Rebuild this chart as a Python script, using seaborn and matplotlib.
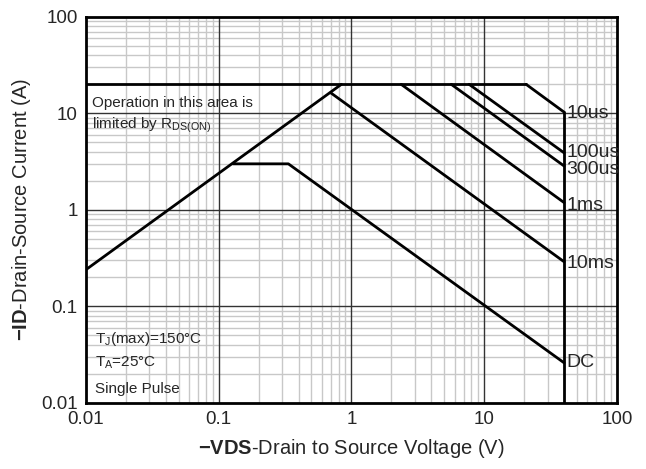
import numpy as np
import pandas as pd
import matplotlib
matplotlib.use("Agg")
import matplotlib.pyplot as plt
import seaborn as sns
from matplotlib.ticker import LogLocator, FixedLocator, FixedFormatter

# Safe operating area curves (V, A)
rds_v = [0.01, 0.84]
rds_i = [0.24, 20.0]
limit_v = [0.01, 20.7]
limit_i = [20.0, 20.0]
us10_v = [20.7, 40.0]
us10_i = [20.0, 10.3]
vmax_v = [40.0, 40.0]
vmax_i = [10.3, 0.01]
us100_v = [7.7, 40.0]
us100_i = [20.0, 3.9]
us300_v = [5.65, 40.0]
us300_i = [20.0, 2.85]
ms1_v = [2.37, 40.0]
ms1_i = [20.0, 1.19]
ms10_v = [0.7, 40.0]
ms10_i = [16.3, 0.29]
dc_v = [0.128, 0.335, 40.0]
dc_i = [3.0, 3.0, 0.026]

curve_names = ["10us", "100us", "300us", "1ms", "10ms", "DC"]
label_ypos = [10.0, 3.95, 2.6, 1.1, 0.28, 0.026]
tick_vals = [0.01, 0.1, 1, 10, 100]
tick_text = ["0.01", "0.1", "1", "10", "100"]

sns.set_style("white")
plt.rcParams['font.family'] = ['Liberation Sans', 'DejaVu Sans']
plt.rcParams['mathtext.fontset'] = 'custom'
plt.rcParams['mathtext.rm'] = 'Liberation Sans'
plt.rcParams['mathtext.it'] = 'Liberation Sans'
plt.rcParams['mathtext.bf'] = 'Liberation Sans:bold'

fig = plt.figure(figsize=(6.46, 4.69), dpi=100)
ax = fig.add_axes([0.133, 0.141, 0.822, 0.823])
ax.set_xscale("log")
ax.set_yscale("log")
ax.set_xlim(0.01, 100)
ax.set_ylim(0.01, 100)

ax.xaxis.set_major_locator(FixedLocator(tick_vals))
ax.xaxis.set_major_formatter(FixedFormatter(tick_text))
ax.yaxis.set_major_locator(FixedLocator(tick_vals))
ax.yaxis.set_major_formatter(FixedFormatter(tick_text))
ax.xaxis.set_minor_locator(LogLocator(base=10, subs=np.arange(2, 10), numticks=20))
ax.yaxis.set_minor_locator(LogLocator(base=10, subs=np.arange(2, 10), numticks=20))
ax.grid(which="minor", color="#c8c8c8", linewidth=1.0)
ax.grid(which="major", visible=False)
ax.tick_params(which="both", length=0, labelsize=13.5, pad=6)
ax.set_axisbelow(True)

# major grid drawn above the light minor grid
for t in tick_vals[1:-1]:
    ax.axvline(t, color="#333333", linewidth=1.0, zorder=1)
    ax.axhline(t, color="#333333", linewidth=1.0, zorder=1)

segments = [
    (rds_v, rds_i), (limit_v, limit_i), (us10_v, us10_i), (vmax_v, vmax_i),
    (us100_v, us100_i), (us300_v, us300_i), (ms1_v, ms1_i), (ms10_v, ms10_i),
    (dc_v, dc_i),
]
for xs, ys in segments:
    df = pd.DataFrame({"V": xs, "I": ys})
    sns.lineplot(data=df, x="V", y="I", ax=ax, color="black", linewidth=2.0,
                 sort=False, estimator=None)

for name, yv in zip(curve_names, label_ypos):
    ax.text(41.5, yv, name, fontsize=14, va="center", ha="left")

ax.text(0.0111, 12.8, "Operation in this area is", fontsize=11, va="center")
ax.text(0.0111, 7.6, r"limited by R$_{\mathrm{DS(ON)}}$", fontsize=11, va="center")
ax.text(0.0117, 0.046, r"T$_{\mathrm{J}}$(max)=150°C", fontsize=11, va="center")
ax.text(0.0117, 0.026, r"T$_{\mathrm{A}}$=25°C", fontsize=11, va="center")
ax.text(0.0117, 0.0140, "Single Pulse", fontsize=11, va="center")

for s in ax.spines.values():
    s.set_color("black")
    s.set_linewidth(2.0)

ax.set_xlabel(r"$\mathbf{-VDS}$-Drain to Source Voltage (V)", fontsize=14.5, labelpad=6)
ax.set_ylabel(r"$\mathbf{-ID}$-Drain-Source Current (A)", fontsize=14.5, labelpad=6)

fig.savefig("out.png", dpi=100)
